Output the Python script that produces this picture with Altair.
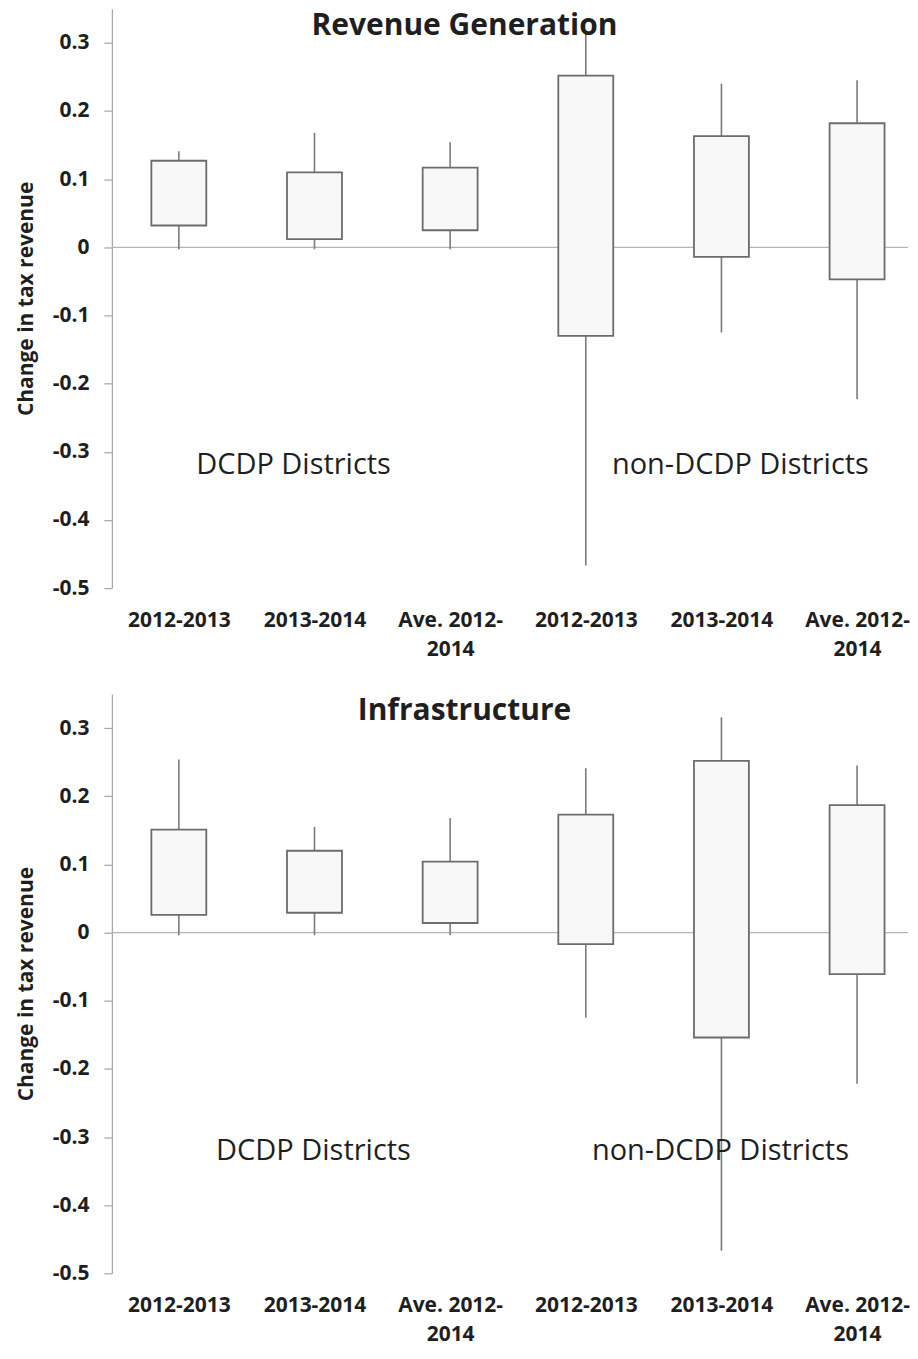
import altair as alt
import pandas as pd

# Category keys (a trailing space marks the non-DCDP group; "|" marks a line break)
categories = ["2012-2013", "2013-2014", "Ave. 2012-|2014",
              "2012-2013 ", "2013-2014 ", "Ave. 2012-|2014 "]

y_ticks = [-0.5, -0.4, -0.3, -0.2, -0.1, 0, 0.1, 0.2, 0.3]

# Revenue Generation
rev_low = [-0.003, -0.003, -0.003, -0.467, -0.125, -0.223]
rev_q1 = [0.032, 0.012, 0.025, -0.130, -0.014, -0.047]
rev_q3 = [0.127, 0.110, 0.117, 0.252, 0.163, 0.182]
rev_high = [0.141, 0.168, 0.154, 0.318, 0.240, 0.245]

# Infrastructure
inf_low = [-0.004, -0.004, -0.004, -0.125, -0.467, -0.222]
inf_q1 = [0.026, 0.029, 0.014, -0.017, -0.154, -0.061]
inf_q3 = [0.151, 0.120, 0.104, 0.173, 0.252, 0.187]
inf_high = [0.254, 0.155, 0.168, 0.241, 0.316, 0.245]

group_labels = ["DCDP Districts", "non-DCDP Districts"]
group_label_cats = [categories[1], categories[4]]
group_label_y = [-0.333, -0.333]

FONT = "Open Sans"
TXT = "#1f1f1f"
YTITLE = "Change in tax revenue"


def xenc():
    return alt.X(
        "cat:N", sort=categories, title=None,
        scale=alt.Scale(type="point", padding=0.4345, align=0.568),
        axis=alt.Axis(labelExpr="split(trim(datum.label), '|')", labelAngle=0,
                      domain=False, ticks=False, labelPadding=21,
                      labelFontSize=21, labelFontWeight="bold", labelFont=FONT,
                      labelColor=TXT, labelLineHeight=29, labelOverlap=False))


def yenc(field):
    return alt.Y(
        field, title=YTITLE,
        scale=alt.Scale(domain=[-0.5, 0.35], nice=False, zero=False),
        axis=alt.Axis(values=y_ticks, grid=False,
                      labelExpr="toString(round(datum.value*10)/10)",
                      labelFontSize=21, labelFontWeight="bold", labelFont=FONT,
                      labelColor=TXT, labelPadding=15,
                      tickSize=8, tickColor="#a6a6a6", tickWidth=1.2,
                      domainColor="#a6a6a6", domainWidth=1.2,
                      titleFontSize=21, titleFontWeight="bold", titleFont=FONT,
                      titleColor=TXT, titlePadding=16))


def panel(title, low, q1, q3, high, dx_left, dx_right):
    df = pd.DataFrame({"cat": categories, "low": low, "q1": q1, "q3": q3, "high": high})
    zero = alt.Chart(pd.DataFrame({"z": [0.0]})).mark_rule(
        color="#b5b5b5", strokeWidth=1.2).encode(y=yenc("z:Q"))
    whisk = alt.Chart(df).mark_rule(color="#7a7a7a", strokeWidth=1.6).encode(
        x=xenc(), y=yenc("low:Q"), y2="high:Q")
    box = alt.Chart(df).mark_bar(size=55, fill="#f8f8f8", stroke="#6c6c6c",
                                 strokeWidth=1.8).encode(
        x=xenc(), y=yenc("q1:Q"), y2="q3:Q")
    lab = pd.DataFrame({"cat": group_label_cats, "yv": group_label_y, "t": group_labels})
    t1 = alt.Chart(lab.iloc[[0]]).mark_text(
        font=FONT, fontSize=29, color=TXT, baseline="alphabetic", align="center",
        dx=dx_left).encode(x=xenc(), y=yenc("yv:Q"), text="t:N")
    t2 = alt.Chart(lab.iloc[[1]]).mark_text(
        font=FONT, fontSize=29, color=TXT, baseline="alphabetic", align="center",
        dx=dx_right).encode(x=xenc(), y=yenc("yv:Q"), text="t:N")
    ttl = alt.Chart(pd.DataFrame({"t": [title]})).mark_text(
        font=FONT, fontSize=30, fontWeight="bold", color=TXT,
        baseline="top", align="center").encode(
        x=alt.value(353), y=alt.value(2), text="t:N")
    return alt.layer(zero, whisk, box, t1, t2, ttl).properties(width=797, height=580)


top = panel("Revenue Generation", rev_low, rev_q1, rev_q3, rev_high, -21, 19)
bottom = panel("Infrastructure", inf_low, inf_q1, inf_q3, inf_high, -1, -1)

chart = alt.vconcat(top, bottom, spacing=35).properties(
    padding={"left": 7, "top": 0, "right": 0, "bottom": 0}
).configure_view(stroke=None).resolve_scale(x="independent", y="independent")

chart.save("out.html", embed_options={"renderer": "svg", "actions": False})
